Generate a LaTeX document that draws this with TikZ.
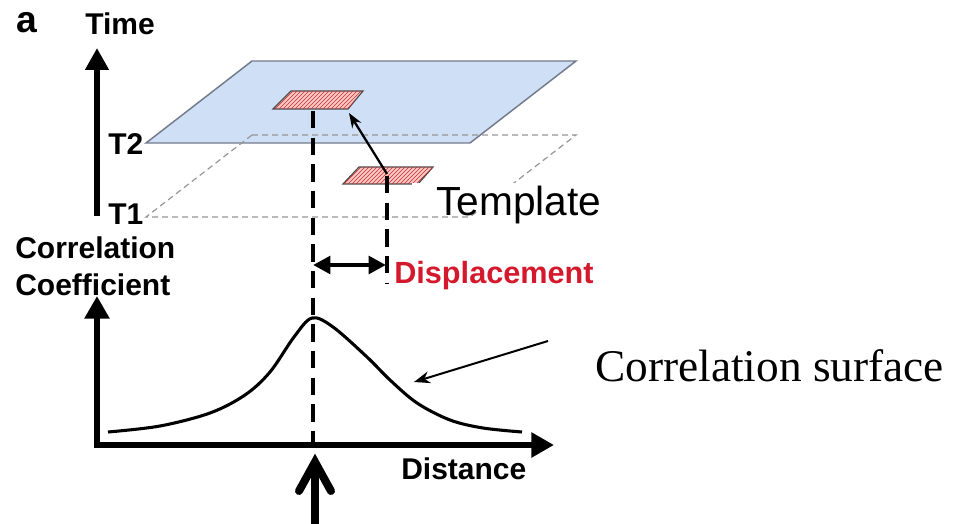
\documentclass[tikz,border=0pt]{standalone}
\usepackage{fontspec}
\setmainfont{Liberation Sans}
\newfontfamily\serifface{Liberation Serif}
\usetikzlibrary{arrows.meta,patterns}
\definecolor{planeblue}{RGB}{207,224,246}
\definecolor{planeedge}{RGB}{115,122,140}
\definecolor{dashgray}{RGB}{150,150,150}
\definecolor{patchpink}{RGB}{248,200,196}
\definecolor{hatchred}{RGB}{205,45,50}
\definecolor{disred}{RGB}{212,25,45}
\begin{document}
\begin{tikzpicture}[x=0.75pt,y=-0.75pt,
  lbl/.style={font=\fontsize{22.5}{26}\selectfont\bfseries, inner sep=0pt},
  planedash/.style={draw=dashgray, line width=0.9pt, dash pattern=on 4.5pt off 3pt},
  patch/.style={fill=patchpink, draw=black!70, line width=0.9pt,
     postaction={pattern=north east lines, pattern color=hatchred}},
  vdash/.style={line width=2.6pt, dash pattern=on 13pt off 7pt},
  bigaxis/.style={line width=5pt, -{Triangle[length=16.5pt,width=17pt]}},
]
\useasboundingbox (0,0) rectangle (964,524);

% planes
\draw[fill=planeblue, draw=planeedge, line width=1.1pt]
  (252,61) coordinate (bA) -- (576,61) coordinate (bB) -- (470,143) coordinate (bC) -- (146,143) coordinate (bD) -- cycle;
\draw[planedash] (252,135) coordinate (dA) -- (576,135) coordinate (dB) -- (470,217) coordinate (dC) -- (146,217) coordinate (dD) -- cycle;

% patches
\path[patch] (273,109) -- (291,91) -- (363,91) -- (348,109) -- cycle;
\path[patch] (343,184) -- (359,167) -- (433,167) -- (418,184) -- cycle;
\coordinate (upPatch) at (349,113);
\coordinate (lowPatch) at (387,174);

% vertical dashed lines
\coordinate (peakTop) at (313,111);
\coordinate (peakBase) at (313,445);
\coordinate (dispTop) at (387,176);
\coordinate (dispBot) at (387,283);
\draw[vdash] (peakTop) -- (peakBase);
\draw[vdash] (dispTop) -- (dispBot);

% motion arrow
\draw[line width=1.7pt, -{Stealth[length=11pt,width=8pt]}] (lowPatch) -- (upPatch);

% Template label
\fill[white] (412,183) rectangle (612,212);
\node[font=\fontsize{30.5}{34}\selectfont, inner sep=0pt, anchor=base west] (tmpl) at (436,215) {Template};

% time axis
\coordinate (timeBot) at (97,216);
\coordinate (timeTop) at (97,48);
\draw[bigaxis] (timeBot) -- (timeTop);

% labels
\node[font=\fontsize{28}{30}\selectfont\bfseries, inner sep=0pt, anchor=base west] (a) at (16,33) {a};
\node[lbl, anchor=base west] (time) at (85,35) {Time};
\node[lbl, anchor=base west] (t2) at (108,155) {T2};
\node[lbl, anchor=base west] (t1) at (108,224) {T1};
\node[lbl, anchor=base west] (cc1) at (15,258) {Correlation};
\node[lbl, anchor=base west] (cc2) at (15,295) {Coefficient};

% displacement
\coordinate (dL) at (313,265);
\coordinate (dR) at (386,265);
\draw[line width=3.6pt, {Triangle[length=13pt,width=13pt]}-{Triangle[length=13pt,width=13pt]}] (dL) -- (dR);
\node[lbl, font=\fontsize{23}{26}\selectfont\bfseries, text=disred, anchor=base west] (disp) at (394,283) {Displacement};

% correlation axes
\coordinate (yTop) at (97,296);
\coordinate (orig) at (97,445);
\coordinate (xEnd) at (554,445);
\draw[line width=4.8pt, miter limit=10, {Triangle[length=17pt,width=18pt]}-{Triangle[length=17pt,width=18pt]}] (yTop) -- (orig) -- (xEnd);
\node[lbl, anchor=base west] (dist) at (401,479) {Distance};

% curve
\draw[line width=2.3pt, line join=round] plot[smooth, tension=0.55] coordinates {
 (108,432) (160,426) (210,413) (245,395) (270,372) (294,337) (312,318) (333,327) (367,357) (390,380) (417,403) (450,420) (483,428) (522,432)};

% correlation surface label
\node[font=\serifface\fontsize{34}{38}\selectfont, inner sep=0pt, anchor=base west] (cs) at (595,381) {Correlation surface};
\coordinate (csTail) at (548,341);
\coordinate (csHead) at (414,382);
\draw[line width=1.5pt, -{Stealth[length=12pt,width=9pt]}] (csTail) -- (csHead);

% bottom arrow
\coordinate (bArrTail) at (315,526);
\coordinate (bArrTip) at (315,462);
\draw[line width=6pt, line cap=butt] (bArrTail) -- (315,470);
\draw[line width=6pt, line cap=round, line join=miter] (299,491) -- (bArrTip) -- (331,491);
\end{tikzpicture}
\end{document}
